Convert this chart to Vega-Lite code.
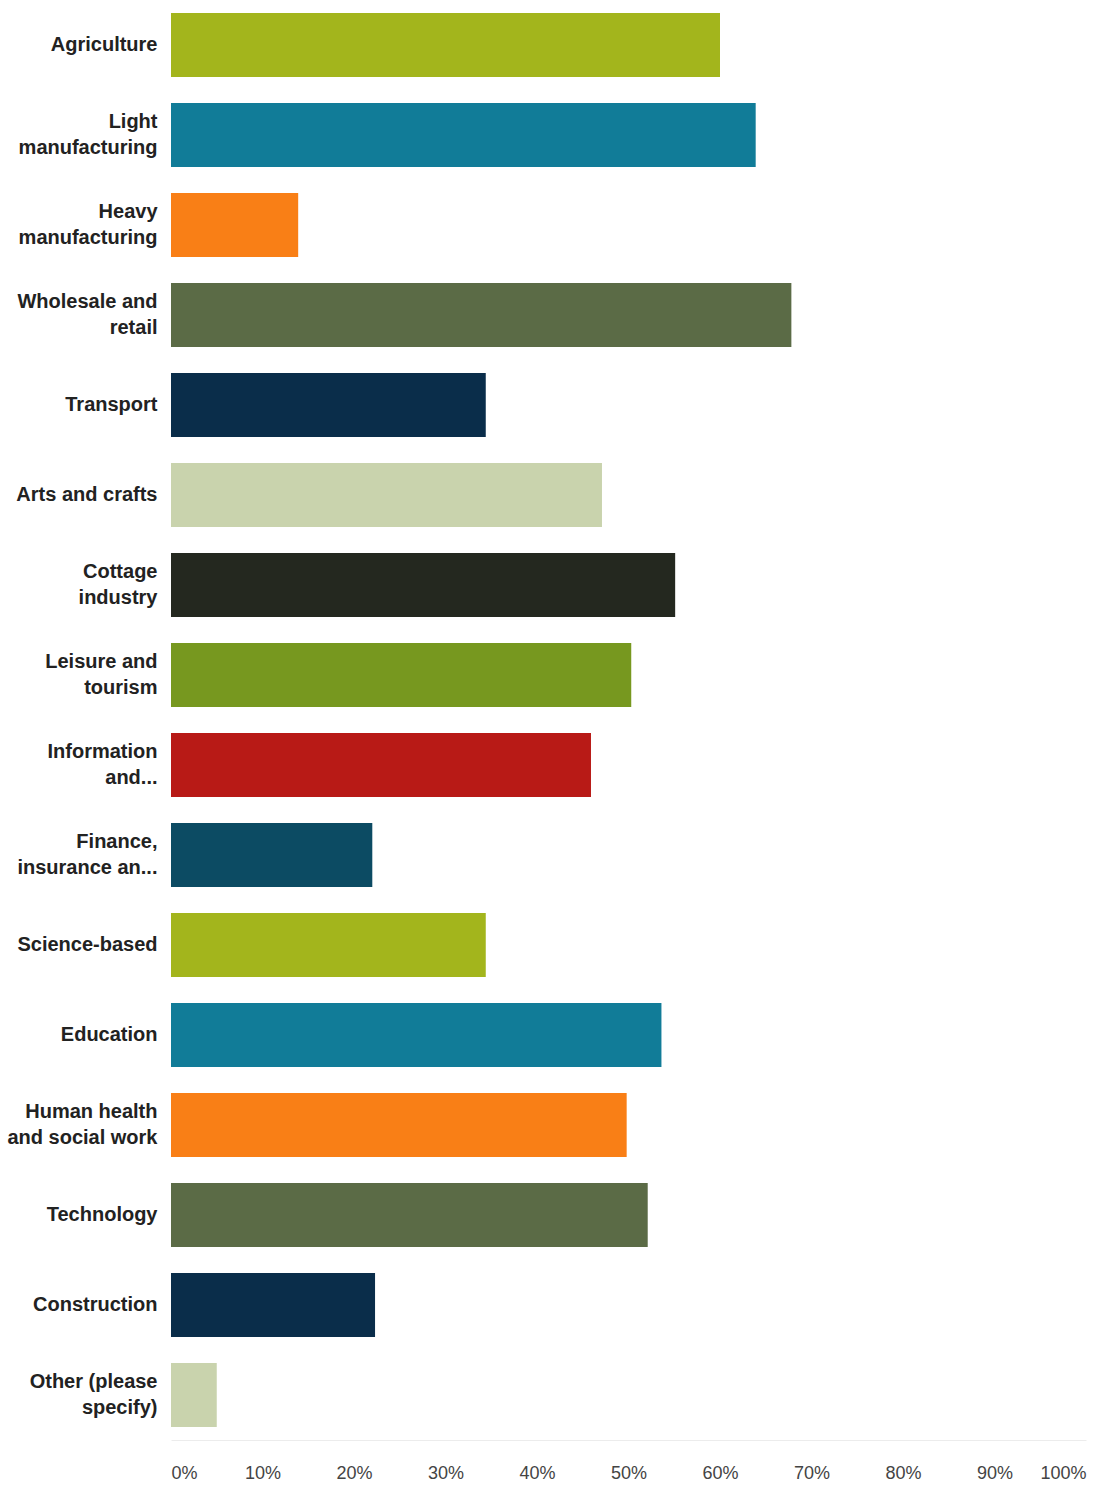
{
  "$schema": "https://vega.github.io/schema/vega-lite/v6.json",
  "width": 915,
  "height": 1440,
  "autosize": {"type": "none"},
  "padding": {"left": 171, "right": 8, "top": 0, "bottom": 45},
  "background": "white",
  "data": {
    "values": [
      {"sector": "Agriculture", "pct": 60},
      {"sector": "Light\nmanufacturing", "pct": 63.9},
      {"sector": "Heavy\nmanufacturing", "pct": 13.9},
      {"sector": "Wholesale and\nretail", "pct": 67.8},
      {"sector": "Transport", "pct": 34.4},
      {"sector": "Arts and crafts", "pct": 47.1},
      {"sector": "Cottage\nindustry", "pct": 55.1},
      {"sector": "Leisure and\ntourism", "pct": 50.3},
      {"sector": "Information\nand...", "pct": 45.9},
      {"sector": "Finance,\ninsurance an...", "pct": 22},
      {"sector": "Science-based", "pct": 34.4},
      {"sector": "Education", "pct": 53.6},
      {"sector": "Human health\nand social work", "pct": 49.8},
      {"sector": "Technology", "pct": 52.1},
      {"sector": "Construction", "pct": 22.3},
      {"sector": "Other (please\nspecify)", "pct": 5}
    ]
  },
  "mark": {"type": "bar"},
  "encoding": {
    "y": {
      "field": "sector",
      "type": "nominal",
      "sort": null,
      "scale": {"paddingInner": 0.29, "paddingOuter": 0.145},
      "axis": {
        "title": null,
        "domain": false,
        "ticks": false,
        "labelPadding": 14,
        "labelFont": "Liberation Sans",
        "labelFontWeight": "bold",
        "labelFontSize": 20,
        "labelColor": "#222222",
        "labelLineHeight": 26,
        "labelLimit": 400,
        "labelOffset": {"condition": {"test": "indexof(datum.label, '\\n') >= 0", "value": -13}, "value": 0},
        "labelExpr": "split(datum.label, '\\n')"
      }
    },
    "x": {
      "field": "pct",
      "type": "quantitative",
      "scale": {"domain": [0, 100], "nice": false},
      "axis": {
        "title": null,
        "values": [0, 10, 20, 30, 40, 50, 60, 70, 80, 90, 100],
        "labelExpr": "datum.value + '%'",
        "grid": false,
        "ticks": false,
        "domain": true,
        "domainColor": "#ececec",
        "domainWidth": 1,
        "labelPadding": 24,
        "labelFlush": true,
        "labelFont": "Liberation Sans",
        "labelFontSize": 18,
        "labelColor": "#444444"
      }
    },
    "color": {
      "field": "sector",
      "type": "nominal",
      "legend": null,
      "scale": {
        "domain": ["Agriculture", "Light\nmanufacturing", "Heavy\nmanufacturing", "Wholesale and\nretail", "Transport", "Arts and crafts", "Cottage\nindustry", "Leisure and\ntourism", "Information\nand...", "Finance,\ninsurance an...", "Science-based", "Education", "Human health\nand social work", "Technology", "Construction", "Other (please\nspecify)"],
        "range": ["#a3b51c", "#117c98", "#f97f16", "#5b6b46", "#0a2d4a", "#c9d3ad", "#24281f", "#77981f", "#b81a16", "#0c4b63", "#a3b51c", "#117c98", "#f97f16", "#5b6b46", "#0a2d4a", "#c9d3ad"]
      }
    }
  },
  "config": {"view": {"stroke": null}}
}
